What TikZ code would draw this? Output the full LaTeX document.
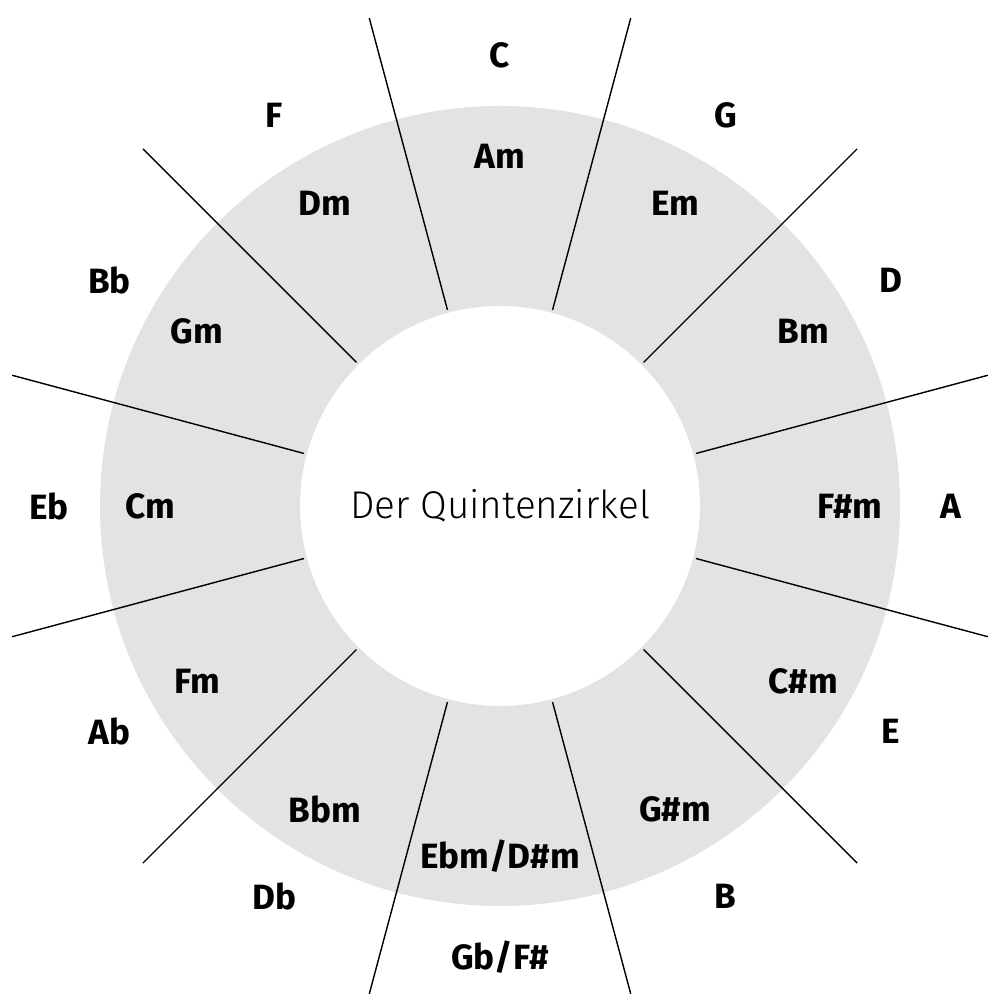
\documentclass[tikz,border=0pt]{standalone}
\usepackage{fontspec}
\setmainfont{Fira Sans}
\newfontfamily\lightf{Fira Sans Light}
\usetikzlibrary{calc}
\begin{document}
\begin{tikzpicture}
\tikzset{lab/.style={font=\bfseries\fontsize{10}{12}\selectfont},spoke/.style={draw=black,line width=0.4pt}}
\useasboundingbox (0,0) rectangle (10,10);
\coordinate (O) at (5,4.94);
\fill[gray!22,even odd rule] (O) circle (4) (O) circle (2);
\foreach \i in {0,...,11}{
  \pgfmathsetmacro\a{105-30*\i}
  \draw[spoke] ($(O)+(\a:2.03)$) -- ($(O)+(\a:5.05)$);
}
\foreach \t [count=\k from 0] in {C,G,D,A,E,B,Gb/F\#,Db,Ab,Eb,Bb,F}{
  \pgfmathsetmacro\a{90-30*\k}
  \node[lab] (M\k) at ($(O)+(\a:4.51)$) {\t};
}
\foreach \t [count=\k from 0] in {Am,Em,Bm,F\#m,C\#m,G\#m,Ebm/D\#m,Bbm,Fm,Cm,Gm,Dm}{
  \pgfmathsetmacro\a{90-30*\k}
  \node[lab] (m\k) at ($(O)+(\a:3.5)$) {\t};
}
\node[font=\lightf\fontsize{11}{13}\selectfont] (title) at (O) {Der Quintenzirkel};
\end{tikzpicture}
\end{document}
